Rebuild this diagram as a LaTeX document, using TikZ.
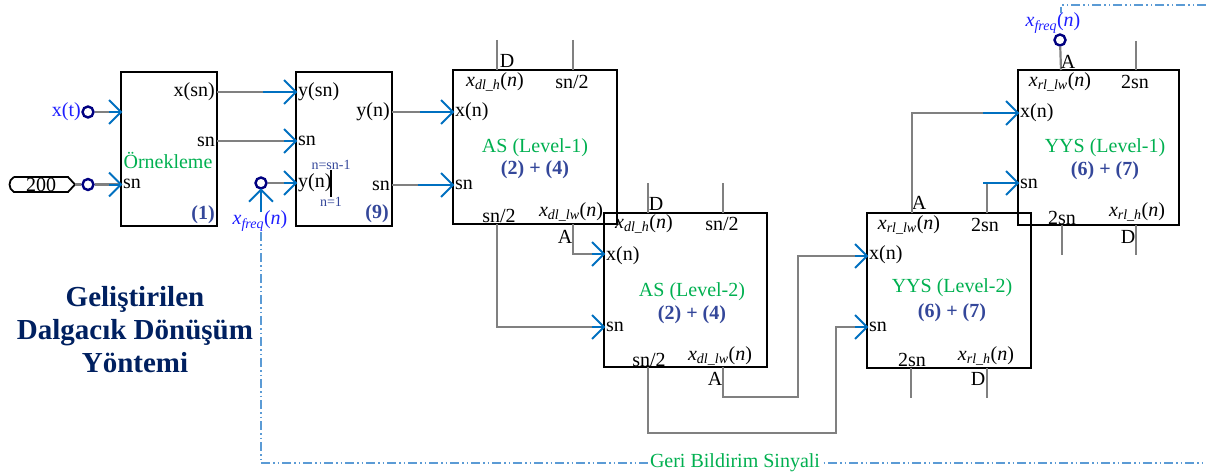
\documentclass[tikz,border=0pt]{standalone}
\usepackage{fontspec}
\setmainfont{Liberation Serif}
\usetikzlibrary{arrows.meta,calc}
\definecolor{gline}{RGB}{128,128,128}
\definecolor{ablue}{RGB}{0,112,192}
\definecolor{tgreen}{RGB}{0,176,80}
\definecolor{tnavy}{RGB}{52,71,154}
\definecolor{tblue}{RGB}{30,30,255}
\definecolor{ttitle}{RGB}{0,32,96}
\definecolor{fbblue}{RGB}{91,155,213}
\definecolor{ringc}{RGB}{0,0,128}
\newcommand{\xsub}[1]{\textit{x}\textsubscript{\textit{#1}}(\textit{n})}
\newcommand{\tipat}[2]{\draw[tipline] ($(#1)+(-#2,0)$) -- (#1);
  \draw[chev] ($(#1)+(-12,-12)$) -- (#1) -- ($(#1)+(-12,12)$);}
\begin{document}
\begin{tikzpicture}[x=1pt,y=-1pt,
  blk/.style={draw=black, line width=2.2pt, inner sep=0pt},
  wire/.style={draw=gline, line width=2.2pt},
  tipline/.style={draw=ablue, line width=2pt},
  chev/.style={draw=ablue, line width=2pt, line join=miter},
  lbl/.style={inner sep=0pt, font=\fontsize{20}{22}\selectfont},
  lw/.style={lbl, anchor=west},
  le/.style={lbl, anchor=east},
  grn/.style={lbl, text=tgreen},
  num/.style={lbl, text=tnavy, font=\fontsize{20}{22}\selectfont\bfseries},
  sml/.style={inner sep=0pt, text=tnavy, font=\fontsize{14}{16}\selectfont},
  ringn/.style={circle, draw=ringc, line width=2.4pt, minimum size=11pt, inner sep=0pt},
  fb/.style={draw=fbblue, line width=1.6pt, dash pattern=on 9pt off 3pt on 1.5pt off 3pt on 1.5pt off 3pt},
  stub/.style={draw=gline, line width=2.2pt}
]
\useasboundingbox (0,0) rectangle (1206,473);

% ---------- blocks ----------
\node[blk, minimum width=96pt, minimum height=154pt] (b1) at (169,149) {};
\node[blk, minimum width=96pt, minimum height=154pt] (b9) at (344,149) {};
\node[blk, minimum width=164pt, minimum height=154pt] (as1) at (535,147) {};
\node[blk, minimum width=163pt, minimum height=154pt] (as2) at (685.5,290) {};
\node[blk, minimum width=164pt, minimum height=155pt] (yy2) at (949,290.5) {};
\node[blk, minimum width=161pt, minimum height=155pt] (yy1) at (1098.5,147.5) {};

% ---------- inputs on the left ----------
\node[le, text=tblue] (xt) at (81,112) {x(t)};
\node[ringn] (c1) at (88,112) {};
\draw[line width=1.8pt] (14,177) -- (68,177) -- (75,184.5) -- (68,192) -- (14,192)
   .. controls (8,189) and (8,180) .. (14,177);
\node[lbl] (t200) at (41,184.5) {200};
\coordinate (tagtip) at (75,184.5);
\node[ringn] (c2) at (88,184.5) {};
\draw[wire] (tagtip) -- (c2);

\coordinate (b1in1) at (121,112);
\coordinate (b1in2) at (121,184.5);
\draw[wire] (c1) -- (b1in1); \tipat{b1in1}{12}
\draw[wire] (c2) -- (b1in2); \tipat{b1in2}{12}

% ---------- block 1 labels ----------
\node[le] at (215,92) {x(sn)};
\node[le] at (215,142) {sn};
\node[grn] at (168,160) {Örnekleme};
\node[lw] at (123,184) {sn};
\node[num] at (203,215) {(1)};

% ---------- block 1 -> block 9 ----------
\coordinate (b1o1) at (217,92);
\coordinate (b1o2) at (217,141);
\coordinate (b9i1) at (296,92);
\coordinate (b9i2) at (296,141);
\coordinate (b9i3) at (296,183);
\draw[wire] (b1o1) -- (b9i1); \tipat{b9i1}{33}
\draw[wire] (b1o2) -- (b9i2); \tipat{b9i2}{12}
\node[ringn] (c3) at (261,183) {};
\draw[wire] (c3) -- (b9i3); \tipat{b9i3}{12}
\coordinate (fbs) at (261,212);
\draw[tipline] (fbs) -- (c3.south);
\draw[chev] ($(c3.south)+(-12,12)$) -- (c3.south) -- ($(c3.south)+(12,12)$);
\node[lbl, text=tblue] (xf1) at (260,221) {\xsub{freq}};

% ---------- block 9 labels ----------
\node[lw] at (298,92) {y(sn)};
\node[lw] at (298,141) {sn};
\node[lw] at (298,183) {y(n)};
\draw[line width=2pt] (331,170) -- (331,197);
\node[sml] at (331,165) {n=sn-1};
\node[sml] at (331,202) {n=1};
\node[le] at (390,112) {y(n)};
\node[le] at (390,186) {sn};
\node[num] at (377,214) {(9)};

% ---------- block 9 -> AS1 ----------
\coordinate (b9o1) at (392,112);
\coordinate (b9o2) at (392,185);
\coordinate (a1i1) at (453,112);
\coordinate (a1i2) at (453,185);
\draw[wire] (b9o1) -- (a1i1); \tipat{a1i1}{33}
\draw[wire] (b9o2) -- (a1i2); \tipat{a1i2}{35}

% ---------- AS1 ----------
\draw[stub] (497,40) -- (497,70);
\draw[stub] (573,40) -- (573,70);
\node[lbl] at (507,61) {D};
\node[lbl] at (495,82) {\xsub{dl\_h}};
\node[lbl] at (572,82) {sn/2};
\node[lw] at (455,112) {x(n)};
\node[lw] at (455,185) {sn};
\node[grn] at (535,148) {AS (Level-1)};
\node[num] at (535,170) {(2) + (4)};
\node[lbl] at (499,216) {sn/2};
\node[lbl] at (571,212) {\xsub{dl\_lw}};
\node[lbl] at (565,237) {A};

% AS1 -> AS2
\coordinate (a1oA) at (573,224);
\coordinate (a1oS) at (497,224);
\coordinate (a2i1) at (604,254);
\coordinate (a2i2) at (604,327);
\draw[wire] (a1oA) |- (a2i1); \tipat{a2i1}{12}
\draw[wire] (a1oS) |- (a2i2); \tipat{a2i2}{12}

% ---------- AS2 ----------
\draw[stub] (648,183) -- (648,213);
\draw[stub] (723,183) -- (723,213);
\node[lbl] at (656,204) {D};
\node[lbl] at (644,224) {\xsub{dl\_h}};
\node[lbl] at (722,224) {sn/2};
\node[lw] at (606,256) {x(n)};
\node[lw] at (606,327) {sn};
\node[grn] at (692,292) {AS (Level-2)};
\node[num] at (692,315) {(2) + (4)};
\node[lbl] at (649,360) {sn/2};
\node[lbl] at (720,356) {\xsub{dl\_lw}};
\node[lbl] at (715,379) {A};

% AS2 -> YYS2
\coordinate (a2oA) at (723,367);
\coordinate (a2oS) at (648,367);
\coordinate (y2i1) at (867,256);
\coordinate (y2i2) at (867,327);
\draw[wire] (a2oA) -- (723,397) -- (798,397) -- (798,256) -- (y2i1); \tipat{y2i1}{12}
\draw[wire] (a2oS) -- (648,433) -- (836,433) -- (836,327) -- (y2i2); \tipat{y2i2}{12}

% ---------- YYS2 ----------
\node[lbl] at (919,203) {A};
\node[lbl] at (909,225) {\xsub{rl\_lw}};
\node[lbl] at (985,225) {2sn};
\node[lw] at (869,255) {x(n)};
\node[lw] at (869,327) {sn};
\node[grn] at (952,288) {YYS (Level-2)};
\node[num] at (952,313) {(6) + (7)};
\node[lbl] at (912,360) {2sn};
\node[lbl] at (986,356) {\xsub{rl\_h}};
\node[lbl] at (978,379) {D};
\draw[stub] (911,368) -- (911,398);
\draw[stub] (987,368) -- (987,398);

% YYS2 -> YYS1
\coordinate (y2oA) at (912,213);
\coordinate (y2oS) at (987,213);
\coordinate (y1i1) at (1018,113);
\coordinate (y1i2) at (1018,183);
\draw[wire] (y2oA) |- (y1i1); \tipat{y1i1}{35}
\draw[wire] (y2oS) |- (y1i2); \tipat{y1i2}{35}

% ---------- YYS1 ----------
\node[ringn] (c4) at (1060,40) {};
\coordinate (y1tA) at (1061,70);
\draw[stub] (c4) -- (y1tA);
\draw[stub] (1136,41) -- (1136,70);
\node[lbl, text=tblue] (xf2) at (1053,23) {\xsub{freq}};
\node[lbl] at (1068,62) {A};
\node[lbl] at (1060,82) {\xsub{rl\_lw}};
\node[lbl] at (1135,82) {2sn};
\node[lw] at (1020,113) {x(n)};
\node[lw] at (1020,184) {sn};
\node[grn] at (1105,148) {YYS (Level-1)};
\node[num] at (1105,171) {(6) + (7)};
\node[lbl] at (1062,218) {2sn};
\node[lbl] at (1137,212) {\xsub{rl\_h}};
\node[lbl] at (1128,237) {D};
\draw[stub] (1062,225) -- (1062,255);
\draw[stub] (1136,225) -- (1136,255);

% ---------- feedback loop ----------
\coordinate (fbtop) at (1061,13);
\draw[fb] (261,232) -- (261,463) -- (1206,463);
\draw[fb] (1206,5) -- (1061,5) -- (fbtop);
\node[lbl, text=tgreen, fill=white, inner xsep=2pt] (fbl) at (735,463) {Geri Bildirim Sinyali};

% ---------- title ----------
\node[align=center, text=ttitle, font=\fontsize{29}{33}\selectfont\bfseries] (title) at (135,330)
  {Geliştirilen\\Dalgacık Dönüşüm\\Yöntemi};
\end{tikzpicture}
\end{document}
